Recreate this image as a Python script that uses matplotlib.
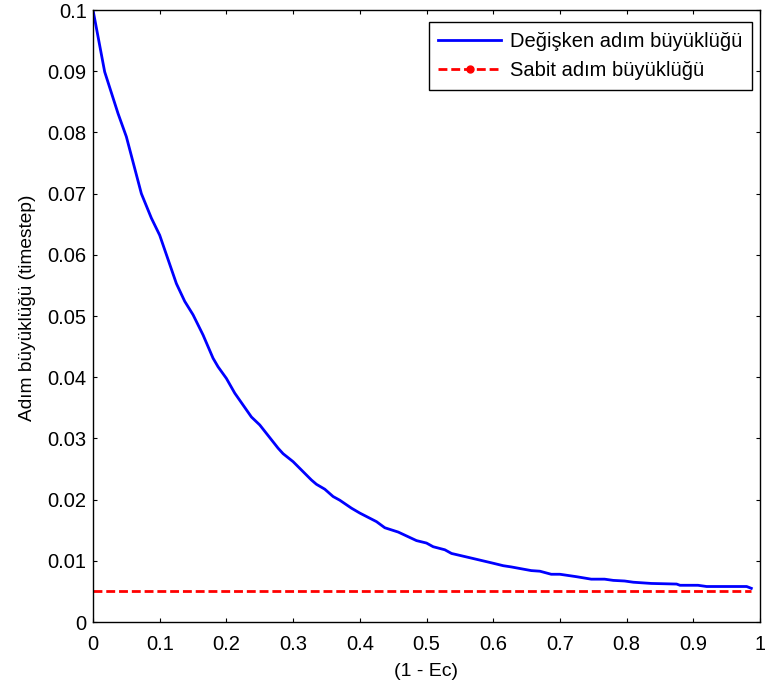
import matplotlib
matplotlib.use("Agg")
import matplotlib.pyplot as plt
from matplotlib.lines import Line2D

plt.rcParams['font.family'] = ['Liberation Sans', 'DejaVu Sans']

# Adaptive step size versus (1 - Ec)
x_var = [0.000, 0.0175, 0.0375, 0.050, 0.0725, 0.0875, 0.100, 0.125, 0.1375,
         0.150, 0.165, 0.180, 0.1875, 0.200, 0.2125, 0.2375, 0.250, 0.2775,
         0.285, 0.300, 0.3275, 0.335, 0.3475, 0.360, 0.370, 0.3875, 0.400,
         0.425, 0.4375, 0.4575, 0.485, 0.500, 0.510, 0.5275, 0.5375, 0.565,
         0.600, 0.615, 0.627, 0.657, 0.670, 0.687, 0.700, 0.725, 0.747, 0.767,
         0.780, 0.797, 0.810, 0.837, 0.875, 0.880, 0.907, 0.920, 0.980, 0.987]
y_var = [0.1000, 0.0899, 0.0831, 0.0793, 0.0700, 0.0660, 0.0632, 0.0553, 0.0524,
         0.0502, 0.0469, 0.0431, 0.0417, 0.0398, 0.0374, 0.0335, 0.0322, 0.0284,
         0.0275, 0.0262, 0.0232, 0.0225, 0.0217, 0.0205, 0.0199, 0.0186, 0.0178,
         0.0164, 0.0154, 0.0147, 0.0133, 0.0129, 0.0123, 0.0118, 0.0112, 0.0105,
         0.0096, 0.0092, 0.0090, 0.0084, 0.0083, 0.0078, 0.0078, 0.0074, 0.0070, 0.0070,
         0.0068, 0.0067, 0.0065, 0.0063, 0.0062, 0.0060, 0.0060, 0.0058, 0.0058, 0.0055]

# Fixed step size
x_fix = [0.0, 0.987]
y_fix = [0.005, 0.005]

x_ticks = [0, 0.1, 0.2, 0.3, 0.4, 0.5, 0.6, 0.7, 0.8, 0.9, 1]
x_ticklabels = ['0', '0.1', '0.2', '0.3', '0.4', '0.5', '0.6', '0.7', '0.8', '0.9', '1']
y_ticks = [0, 0.01, 0.02, 0.03, 0.04, 0.05, 0.06, 0.07, 0.08, 0.09, 0.1]
y_ticklabels = ['0', '0.01', '0.02', '0.03', '0.04', '0.05', '0.06', '0.07', '0.08', '0.09', '0.1']

label_var = 'Değişken adım büyüklüğü'
label_fix = 'Sabit adım büyüklüğü'

fig = plt.figure(figsize=(7.65, 6.88), dpi=100)
ax = fig.add_axes([93 / 765, 66 / 688, 667 / 765, 612 / 688])

ax.plot(x_var, y_var, color=(0, 0, 1), lw=2.0, solid_joinstyle='round')
ax.plot(x_fix, y_fix, color=(1, 0, 0), lw=2.0, linestyle=(0, (3.2, 1.4)))

ax.set_xlim(0, 1)
ax.set_ylim(0, 0.1)
ax.set_xticks(x_ticks)
ax.set_xticklabels(x_ticklabels)
ax.set_yticks(y_ticks)
ax.set_yticklabels(y_ticklabels)
ax.tick_params(direction='in', length=3, width=0.8, top=True, right=True,
               labelsize=14.5)
ax.tick_params(axis='x', pad=9.5)
ax.tick_params(axis='y', pad=4.5)
for s in ax.spines.values():
    s.set_linewidth(1.0)

ax.set_xlabel('(1 - Ec)', fontsize=14, labelpad=6.5)
ax.set_ylabel('Adım büyüklüğü (timestep)', fontsize=13.8)
ax.yaxis.set_label_coords(-0.0855, 0.514)

handles = [
    Line2D([], [], color=(0, 0, 1), lw=2.0),
    Line2D([], [], color=(1, 0, 0), lw=2.0, linestyle=(0, (3.2, 1.4)),
           marker='.', markersize=10),
]
leg = ax.legend(handles, [label_var, label_fix], loc='upper right',
                bbox_to_anchor=(0.988, 0.980), borderaxespad=0, fontsize=14.5,
                fancybox=False, framealpha=1, edgecolor='black',
                handlelength=3.1, handletextpad=0.45, labelspacing=0.5,
                borderpad=0.48, numpoints=1)
leg.get_frame().set_linewidth(1.0)

fig.savefig('out.png', dpi=100, facecolor='white')
